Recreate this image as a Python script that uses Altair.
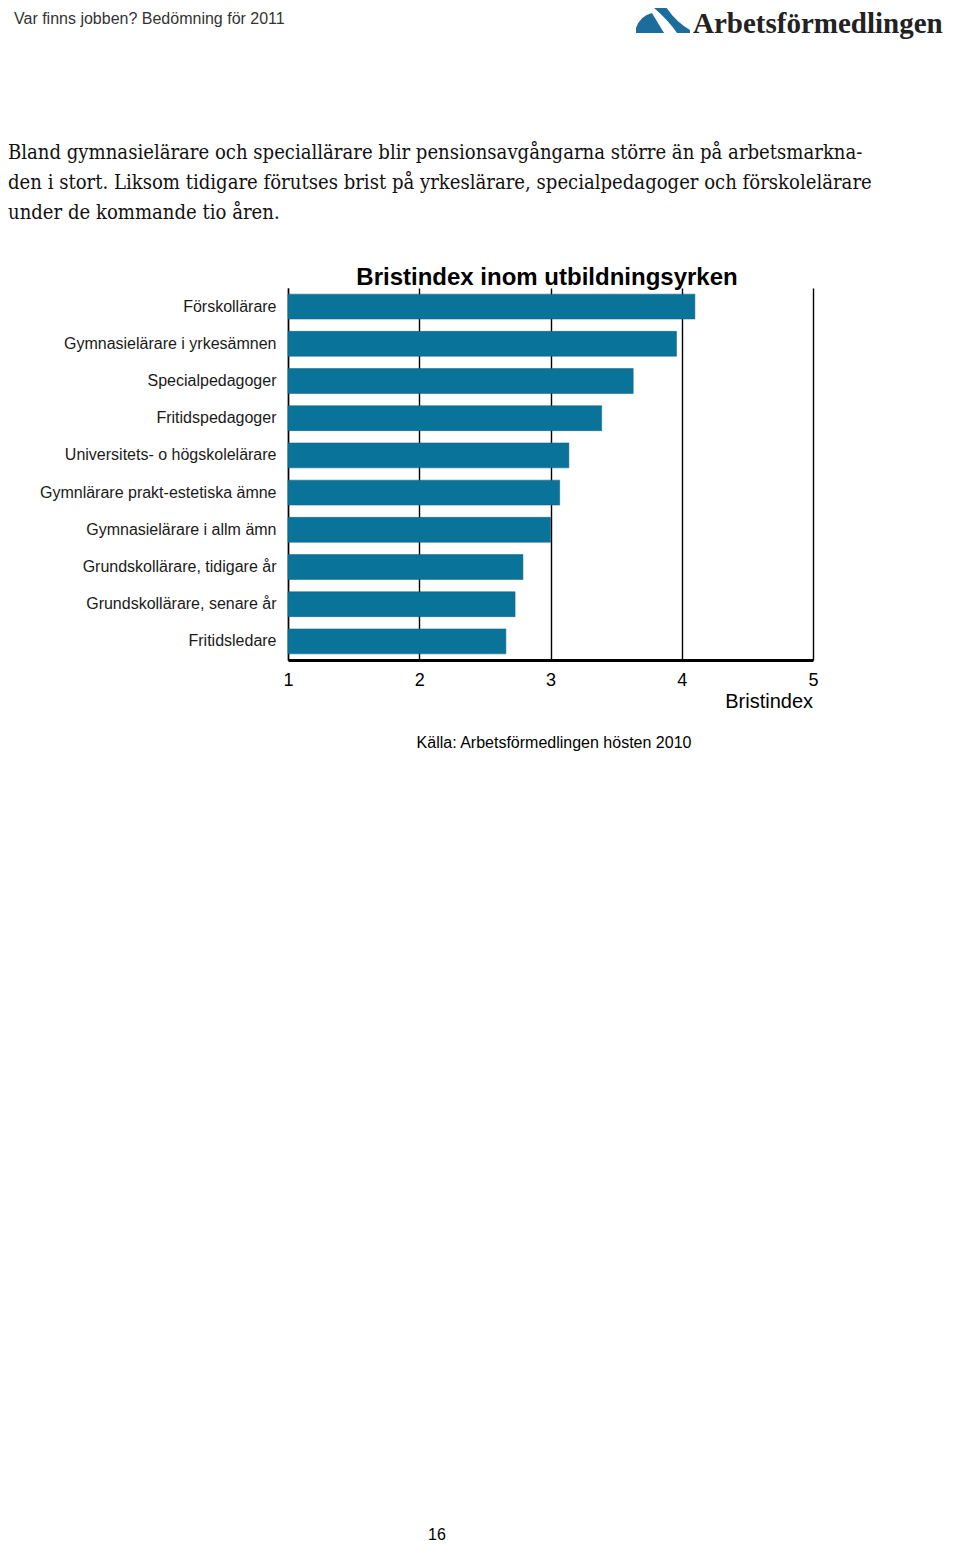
import altair as alt
import pandas as pd

categories = [
    "Förskollärare",
    "Gymnasielärare i yrkesämnen",
    "Specialpedagoger",
    "Fritidspedagoger",
    "Universitets- o högskolelärare",
    "Gymnlärare prakt-estetiska ämne",
    "Gymnasielärare i allm ämn",
    "Grundskollärare, tidigare år",
    "Grundskollärare, senare år",
    "Fritidsledare",
]
values = [4.10, 3.96, 3.63, 3.39, 3.14, 3.07, 3.00, 2.79, 2.73, 2.66]
x_ticks = [1, 2, 3, 4, 5]

header_text = "Var finns jobben? Bedömning för 2011"
logo_text = "Arbetsförmedlingen"
paragraph = [
    "Bland gymnasielärare och speciallärare blir pensionsavgångarna större än på arbetsmarkna-",
    "den i stort. Liksom tidigare förutses brist på yrkeslärare, specialpedagoger och förskolelärare",
    "under de kommande tio åren.",
]
chart_title = "Bristindex inom utbildningsyrken"
x_title = "Bristindex"
source_text = "Källa: Arbetsförmedlingen hösten 2010"
page_number = "16"

SANS = "Liberation Sans, Arial, Helvetica, sans-serif"
SERIF = "DejaVu Serif Condensed, DejaVu Serif, serif"
BAR = "#0a7399"

df = pd.DataFrame({"yrke": categories, "index": values})

bars = alt.Chart(df).mark_bar(color=BAR, stroke="#08607f", strokeWidth=0.5).encode(
    y=alt.Y(
        "yrke:N",
        sort=categories,
        scale=alt.Scale(paddingInner=0.33, paddingOuter=0.165),
        axis=alt.Axis(
            title=None,
            labelFont=SANS,
            labelFontSize=16,
            labelColor="#1a1a1a",
            labelPadding=12,
            labelLimit=320,
            ticks=False,
            domainColor="black",
            domainWidth=1.4,
        ),
    ),
    x=alt.X(
        "index:Q",
        scale=alt.Scale(domain=[1, 5], nice=False, zero=False),
        axis=alt.Axis(
            title=None,
            values=x_ticks,
            format="d",
            grid=True,
            gridColor="black",
            gridWidth=1.4,
            gridOpacity=1,
            domainColor="black",
            domainWidth=3,
            ticks=False,
            labelPadding=11,
            labelFont=SANS,
            labelFontSize=18,
            labelColor="black",
            labelFlush=False,
        ),
    ),
    x2=alt.datum(1),
)


def txt(s, x, y, size, align="left", baseline="middle", font=SANS, weight="normal", color="black"):
    return alt.Chart(alt.Data(values=[{"t": s}])).mark_text(
        align=align, baseline=baseline, font=font, fontSize=size, fontWeight=weight, color=color
    ).encode(text="t:N", x=alt.value(x), y=alt.value(y))


logo_path = (
    "M-1,0.48 L-1,0.3 Q-0.85,-0.15 -0.41,-0.26 L0.04,0.48 Z "
    "M-0.37,-0.48 L0.11,-0.48 Q0.48,0.07 1,0.37 L1,0.48 L0.52,0.48 Q0.19,0 -0.37,-0.48 Z"
)
logo_mark = alt.Chart(alt.Data(values=[{"a": 1}])).mark_point(
    shape=logo_path, filled=True, color="#1c6d9b", opacity=1, size=2916
).encode(x=alt.value(375), y=alt.value(-268))

layers = [
    bars,
    txt(header_text, -274, -269, 16, color="#333333"),
    logo_mark,
    txt(logo_text, 405, -255, 29, baseline="alphabetic", font="Liberation Serif, Times New Roman, serif", weight="bold", color="#222222"),
]
for i, line in enumerate(paragraph):
    layers.append(txt(line, -280, -135 + 30 * i, 20.1, font=SERIF, color="#111111"))
layers += [
    txt(chart_title, 259, -3, 24, align="center", baseline="alphabetic", weight="bold"),
    txt(x_title, 525, 414, 20, align="right"),
    txt(source_text, 266, 455, 16, align="center"),
    txt(page_number, 149, 1252, 16, align="center", baseline="alphabetic"),
]

chart = alt.layer(*layers).properties(
    width=525,
    height=372,
    padding={"left": 280, "top": 280, "right": 138, "bottom": 886},
    autosize=alt.AutoSizeParams(type="none"),
).configure_view(stroke=None)

chart.save("out.html", embed_options={"renderer": "svg", "actions": False})
